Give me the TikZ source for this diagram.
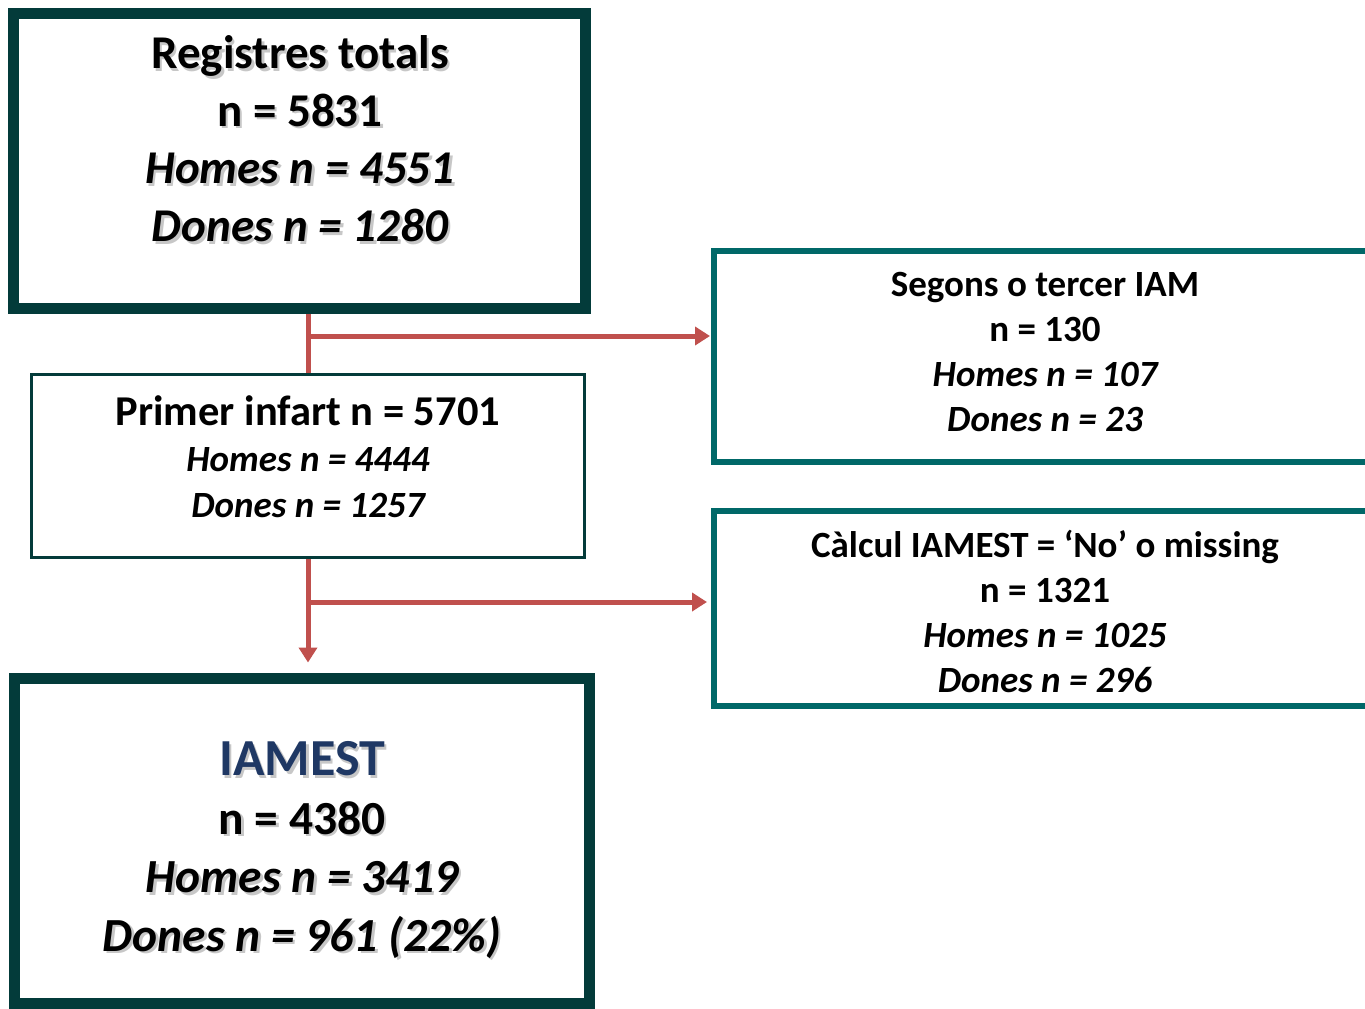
\documentclass[tikz,border=0pt]{standalone}
\usepackage{fontspec}
\setmainfont{Carlito}
\usepackage{tikz}
\usetikzlibrary{arrows.meta}
\definecolor{darkteal}{RGB}{3,59,58}
\definecolor{lightteal}{RGB}{0,104,104}
\definecolor{arrowred}{RGB}{192,80,77}
\definecolor{iamblue}{RGB}{31,56,100}
\newcommand{\shd}[1]{\leavevmode\rlap{\kern2.5pt\raisebox{-2.5pt}{\color{black!22}#1}}#1}

\begin{document}
\begin{tikzpicture}[x=1pt,y=-1pt,
	bigbox/.style={draw=darkteal,line width=11pt,fill=white},
	thinbox/.style={draw=darkteal,line width=3pt,fill=white},
	sidebox/.style={draw=lightteal,line width=6pt,fill=white,minimum width=662pt},
	txt/.style={align=center,inner sep=0pt},
	flow/.style={draw=arrowred,line width=5pt},
	flowarrow/.style={flow,-{Triangle[length=15pt,width=18pt]}}]
				\useasboundingbox (0,0) rectangle (1365,1009);
				\clip (0,0) rectangle (1365,1009);
				% boxes
				\node[bigbox,minimum width=572pt,minimum height=295pt] (reg) at (299.5,161) {};
				\node[thinbox,minimum width=553pt,minimum height=183pt] (prim) at (308,466) {};
				\node[bigbox,minimum width=575pt,minimum height=325pt] (iam) at (301.5,840.5) {};
				\node[sidebox,minimum height=211pt] (seg) at (1045,356.5) {};
				\node[sidebox,minimum height=195pt] (calc) at (1045,608.5) {};
				% texts
				\node[txt,font=\bfseries\fontsize{47}{57.7}\selectfont] (regtxt) at (300,140)
					{\shd{Registres totals}\\\shd{n = 5831}\\\shd{\itshape Homes n = 4551}\\\shd{\itshape Dones n = 1280}};
				\node[txt,font=\bfseries\fontsize{37}{46}\selectfont] (primtxt) at (308,457)
					{{\fontsize{42.5}{46}\selectfont Primer infart n = 5701}\\\itshape Homes n = 4444\\\itshape Dones n = 1257};
				\node[txt,font=\bfseries\fontsize{37}{45}\selectfont] (segtxt) at (1045,352)
					{Segons o tercer IAM\\n = 130\\\itshape Homes n = 107\\\itshape Dones n = 23};
				\node[txt,font=\bfseries\fontsize{37}{45}\selectfont] (calctxt) at (1045,611)
					{Càlcul IAMEST = ‘No’ o missing\\n = 1321\\\itshape Homes n = 1025\\\itshape Dones n = 296};
				\node[txt,font=\bfseries\fontsize{47.5}{58.5}\selectfont] (iamtxt) at (302,851)
					{\textcolor{iamblue}{\shd{\fontsize{52}{62}\selectfont IAMEST}}\\\shd{n = 4380}\\\shd{\itshape Homes n = 3419}\\\shd{\itshape Dones n = 961 (22\%)}};
				% connectors
				\coordinate (j1) at (308,336);
				\coordinate (j2) at (308,602);
				\draw[flow] (reg.south -| j1) -- (prim.north -| j1);
				\draw[flowarrow,shorten >=1pt] (j1) -- (j1 -| seg.west);
				\draw[flow] (prim.south -| j2) -- (j2);
				\draw[flowarrow,shorten >=10pt] (j2) -- (iam.north -| j2);
				\draw[flowarrow,shorten >=4pt] (j2) -- (j2 -| calc.west);
\end{tikzpicture}
\end{document}
